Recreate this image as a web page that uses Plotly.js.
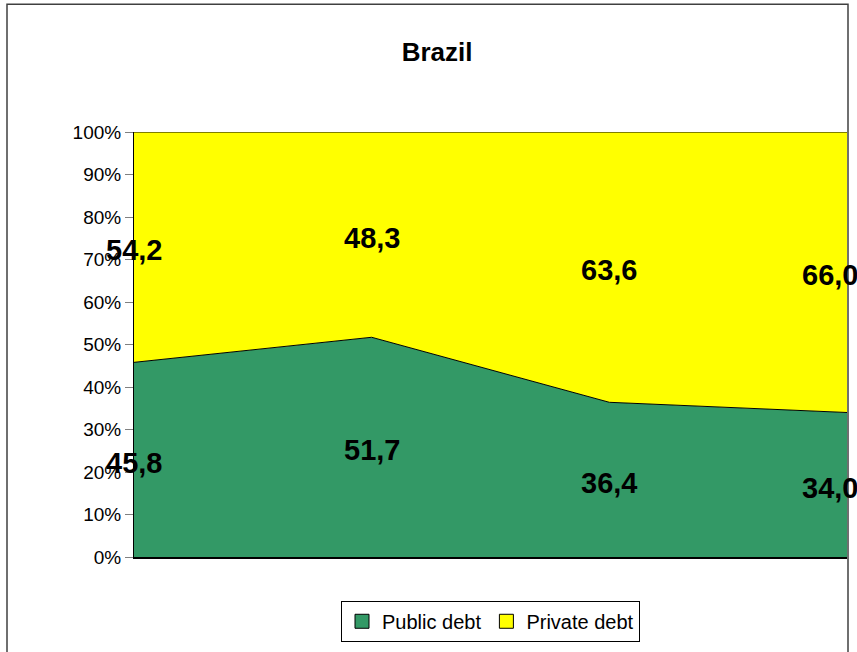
<!DOCTYPE html>
<html>
<head>
<meta charset="utf-8">
<script src="https://cdn.plot.ly/plotly-3.0.1.min.js"></script>
<style>html,body{margin:0;padding:0;background:#fff;}#chart{width:857px;height:652px;}</style>
</head>
<body>
<div id="chart"></div>
<script>
const categories = ['P1', 'P2', 'P3', 'P4'];
const publicDebt = [45.8, 51.7, 36.4, 34.0];
const privateDebt = [54.2, 48.3, 63.6, 66.0];
const seriesNames = ['Public debt', 'Private debt'];
const seriesColors = ['#339966', '#FFFF00'];
const tickValues = [0, 10, 20, 30, 40, 50, 60, 70, 80, 90, 100];
const tickLabels = ['0%', '10%', '20%', '30%', '40%', '50%', '60%', '70%', '80%', '90%', '100%'];

const FONT = 'Liberation Sans, Arial, sans-serif';
const fmt = v => v.toFixed(1).replace('.', ',');

const traces = [
  {x: categories, y: publicDebt, name: seriesNames[0], type: 'scatter', mode: 'lines',
   stackgroup: 'one', fillcolor: seriesColors[0], line: {color: '#000', width: 1}, hoverinfo: 'skip', showlegend: false},
  {x: categories, y: privateDebt, name: seriesNames[1], type: 'scatter', mode: 'lines',
   stackgroup: 'one', fillcolor: seriesColors[1], line: {color: '#000', width: 1}, hoverinfo: 'skip', showlegend: false},
  {x: [null], y: [null], name: seriesNames[0], type: 'scatter', mode: 'markers',
   marker: {symbol: 'square', size: 14, color: seriesColors[0], line: {color: '#000', width: 1}}},
  {x: [null], y: [null], name: seriesNames[1], type: 'scatter', mode: 'markers',
   marker: {symbol: 'square', size: 14, color: seriesColors[1], line: {color: '#000', width: 1}}}
];

const annotations = [];
categories.forEach((c, i) => {
  const xs = i === categories.length - 1 ? -17 : 0;
  annotations.push({x: i, y: publicDebt[i] / 2, text: fmt(publicDebt[i]), showarrow: false, xshift: xs, yshift: -3,
    font: {family: FONT, size: 29, color: '#000', weight: 'bold'}, xanchor: 'center', yanchor: 'middle'});
  annotations.push({x: i, y: publicDebt[i] + privateDebt[i] / 2, text: fmt(privateDebt[i]), showarrow: false, xshift: xs, yshift: -3,
    font: {family: FONT, size: 29, color: '#000', weight: 'bold'}, xanchor: 'center', yanchor: 'middle'});
});

const layout = {
  width: 857, height: 652,
  margin: {l: 134, r: 10, t: 132, b: 91},
  paper_bgcolor: '#fff', plot_bgcolor: '#fff',
  showlegend: true,
  title: {text: '<b>Brazil</b>', font: {family: FONT, size: 26, color: '#000'},
    x: 0.51, xref: 'container', y: 1 - 52 / 652, yref: 'container', yanchor: 'middle'},
  xaxis: {type: 'category', range: [0, 3], showticklabels: false, ticks: '', showgrid: false,
    zeroline: false, showline: true, linecolor: '#000', linewidth: 2, fixedrange: true},
  yaxis: {range: [0, 100], tickmode: 'array', tickvals: tickValues, ticktext: tickLabels, ticks: 'outside', ticklen: 8,
    tickcolor: '#808080', tickwidth: 1, showgrid: false, zeroline: false, showline: true,
    linecolor: '#000', linewidth: 1, tickfont: {family: FONT, size: 19, color: '#000'}, fixedrange: true},
  legend: {orientation: 'h', x: 0.5, xanchor: 'center', y: -0.103, yanchor: 'top',
    bordercolor: '#000', borderwidth: 1, bgcolor: '#fff',
    font: {family: FONT, size: 20, color: '#000'}, traceorder: 'normal', itemwidth: 30},
  annotations: annotations,
  shapes: [
    {type: 'rect', xref: 'paper', yref: 'paper', x0: (7 - 134) / 713, x1: (848 - 134) / 713,
     y0: (561 - 700) / 429, y1: (561 - 3) / 429, line: {color: '#404040', width: 1.5}, layer: 'below'}
  ]
};

Plotly.newPlot('chart', traces, layout, {displayModeBar: false, staticPlot: true});
</script>
</body>
</html>
